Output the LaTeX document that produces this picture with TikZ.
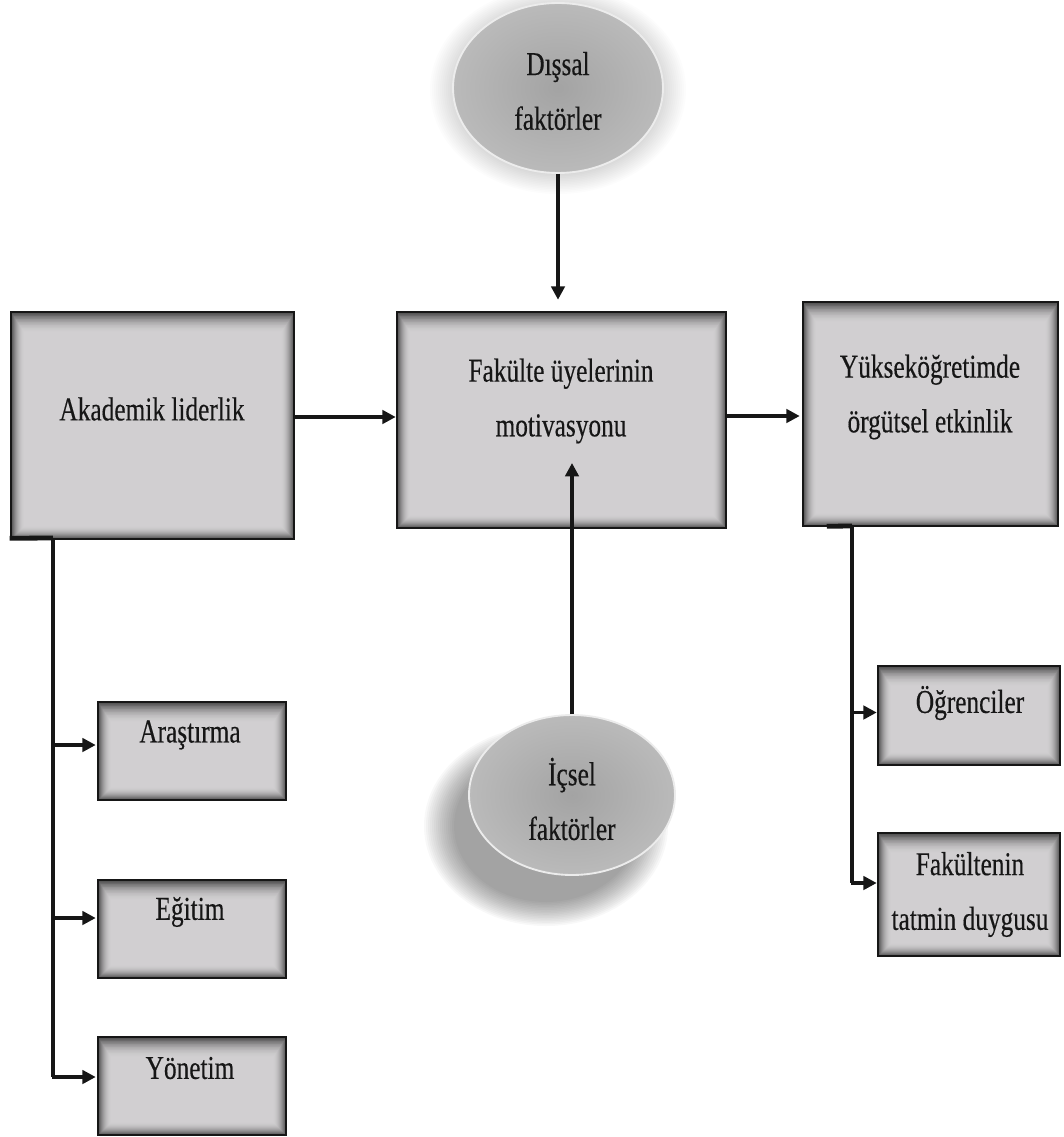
\documentclass[tikz,border=0pt]{standalone}
\usepackage{fontspec}
\setmainfont{Liberation Serif}[FakeStretch=0.76, FakeBold=0.35]
\usetikzlibrary{arrows.meta,shapes.geometric,calc}

\definecolor{boxfill}{HTML}{D1CFD1}
\definecolor{ink}{HTML}{161616}

% inner shadow of a box node, drawn as nested rings getting lighter inwards
\newcommand\innershade[1]{%
  \foreach \i in {0,...,27}{%
    \pgfmathsetmacro\shadeamt{68*(1-\i/28)^2}%
    \draw[draw=black!\shadeamt!boxfill, line width=0.55pt]
      ($(#1.north west)+(0.5*\i+0.4,0.75*\i+0.4)$) rectangle ($(#1.south east)+(-0.5*\i-0.4,-0.5*\i-0.4)$);
  }%
  \draw[draw=ink, line width=1.3pt] (#1.north west) rectangle (#1.south east);
}

% soft halo: stacked translucent ellipses
\newcommand\softhalo[5]{% centre x, centre y, x radius, y radius, opacity per layer
  \foreach \k in {0,...,15}{%
    \fill[black, opacity=#5] (#1,#2) ellipse [x radius=#3-2*\k, y radius=#4-1.6*\k];
  }%
}

\tikzset{
  dims/.style n args={2}{minimum width=#1*0.75pt, minimum height=#2*0.75pt},
  box/.style={rectangle, fill=boxfill, inner sep=0pt},
  blob/.style={ellipse, inner sep=0pt, inner color=gray!72, outer color=gray!54,
    draw=white!85!gray, line width=1.4pt},
  lbl/.style={text=ink, align=center, inner sep=0pt,
    font=\fontsize{25}{41}\selectfont},
  conn/.style={draw=ink, line width=2.7pt},
  stub/.style={draw=ink, line width=3.6pt},
  arr/.style={conn, -{Triangle[length=10pt,width=10pt]}},
}

\begin{document}
\begin{tikzpicture}[x=0.75pt, y=-0.75pt]
\useasboundingbox (0,0) rectangle (1063,1137);

% glow round the outer factors, shadow below the inner factors
\softhalo{558}{90}{128}{104}{0.012}
\softhalo{546}{826}{122}{100}{0.027}

% outer factors
\node[blob, dims={210}{170}] (dis) at (558,88) {};
\node[lbl] (dist) at (558,91) {Dışsal\\faktörler};

% inner factors
\node[blob, dims={206}{160}] (ic) at (572,795) {};
\node[lbl] (ict) at (572,799) {İçsel\\faktörler};

% main boxes
\node[box, dims={283}{227}] (ak)  at (152.5,425.5) {};
\innershade{ak}
\node[lbl] (akt) at (152,409) {Akademik liderlik};

\node[box, dims={329}{216}] (fak) at (561.5,420) {};
\innershade{fak}
\node[lbl] (fakt) at (561,401) {Fakülte üyelerinin\\motivasyonu};

\node[box, dims={255}{224}] (yuk) at (930.5,414) {};
\innershade{yuk}
\node[lbl] (yukt) at (930,397) {Yükseköğretimde\\örgütsel etkinlik};

% left branch boxes
\node[box, dims={188}{98}] (ara) at (192,751) {};
\innershade{ara}
\node[lbl] (arat) at (190,735) {Araştırma};

\node[box, dims={188}{98}] (egi) at (192,929) {};
\innershade{egi}
\node[lbl] (egit) at (190,912) {Eğitim};

\node[box, dims={188}{98}] (yon) at (192,1086) {};
\innershade{yon}
\node[lbl] (yont) at (190,1068) {Yönetim};

% right branch boxes
\node[box, dims={182}{99}] (ogr) at (969,715.5) {};
\innershade{ogr}
\node[lbl] (ogrt) at (970,703) {Öğrenciler};

\node[box, dims={182}{123}] (fkt) at (969,894.5) {};
\innershade{fkt}
\node[lbl] (fktt) at (970,894.5) {Fakültenin\\tatmin duygusu};

% connectors into the central box
\draw[arr] (dis.south) -- ($(dis.south |- fak.north)+(0,-12)$);
\coordinate (icTip) at (572,463);
\draw[arr] (ic.north) -- (icTip);
\draw[arr] ($(ak.east)+(0,-8.5)$) -- ($(fak.west)+(-1,-3)$);
\draw[arr] ($(fak.east)+(0,-4)$) -- ($(yuk.west |- fak.east)+(-3,-4)$);

% left branch
\coordinate (lj) at (53,538);
\coordinate (lend) at (53,1077);
\draw[stub] ($(ak.south west)+(-1,-1)$) -- (lj);
\draw[conn] (lj) -- (lend);
\draw[arr] ($(lj |- ara.west)+(0,-6)$) -- ($(ara.west)+(-2,-6)$);
\draw[arr] ($(lj |- egi.west)+(0,-11)$) -- ($(egi.west)+(-2,-11)$);
\draw[arr] ($(lend)+(-1.4,0)$) -- ($(yon.west)+(-2,-9)$);

% right branch
\coordinate (rj) at (852,526);
\coordinate (rend) at (852,883);
\draw[stub] ($(yuk.south west)+(24,0)$) -- (rj);
\draw[conn] (rj) -- (rend);
\draw[arr] ($(rj |- ogr.west)+(0,-3)$) -- ($(ogr.west)+(-1,-3)$);
\draw[arr] ($(rend)+(-1.4,0)$) -- ($(fkt.west)+(-1,-11.5)$);
\end{tikzpicture}
\end{document}
